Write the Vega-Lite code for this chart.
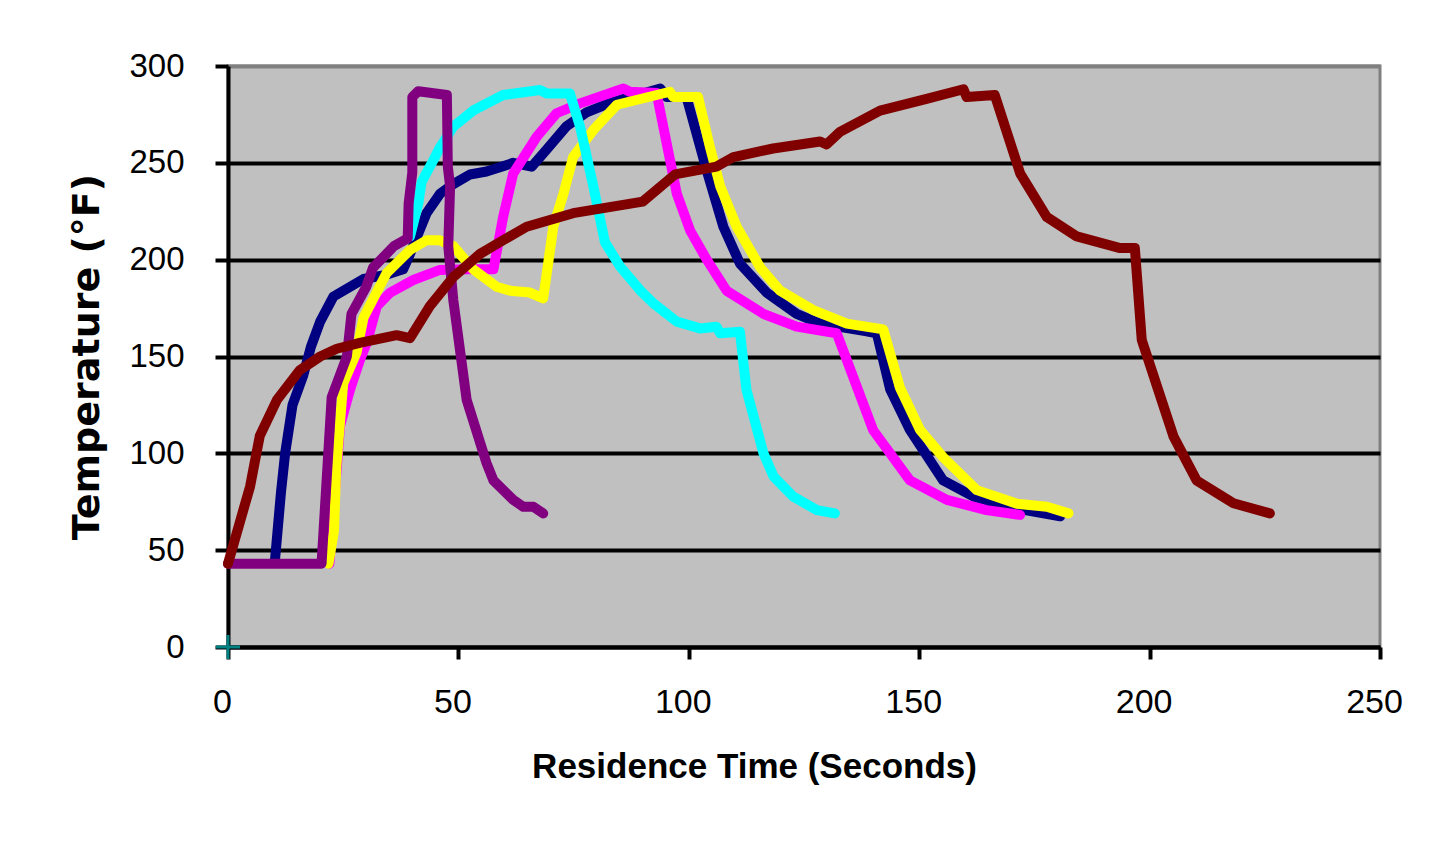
{
  "$schema": "https://vega.github.io/schema/vega-lite/v6.json",
  "width": 1152,
  "height": 581,
  "autosize": {"type": "none"},
  "padding": {"left": 228, "top": 66, "right": 57, "bottom": 199},
  "background": "white",
  "view": {"fill": "#C0C0C0", "stroke": "#808080", "strokeWidth": 3},
  "datasets": {
    "navy": [
      {"t":10.2,"temp":45},{"t":11.5,"temp":80},{"t":12.4,"temp":100},{"t":14,"temp":125},{"t":16.3,"temp":140},{"t":18,"temp":155},{"t":20,"temp":168},{"t":22.9,"temp":181},{"t":29.4,"temp":190},{"t":34,"temp":192},{"t":38,"temp":195},{"t":39.5,"temp":203},{"t":43.1,"temp":224},{"t":46,"temp":234},{"t":48.9,"temp":239},{"t":52.5,"temp":244},{"t":56.1,"temp":245.5},{"t":61.9,"temp":250},{"t":65.9,"temp":248},{"t":69.2,"temp":257},{"t":73.5,"temp":269},{"t":77.8,"temp":276},{"t":82.9,"temp":281},{"t":93.8,"temp":288.4},{"t":95.2,"temp":284},{"t":99.5,"temp":284},{"t":103.9,"temp":246},{"t":107.5,"temp":217},{"t":111.1,"temp":198},{"t":116.9,"temp":183},{"t":123.4,"temp":172},{"t":128.5,"temp":167},{"t":138.6,"temp":163},{"t":140.8,"temp":162},{"t":143.7,"temp":133},{"t":148,"temp":112},{"t":155.2,"temp":86},{"t":161.8,"temp":77.6},{"t":170,"temp":72},{"t":180.6,"temp":67.5}
    ],
    "magenta": [
      {"t":22,"temp":43},{"t":24.3,"temp":114},{"t":26.5,"temp":133},{"t":28.6,"temp":148},{"t":30.1,"temp":157},{"t":32.3,"temp":176},{"t":35.2,"temp":183},{"t":40.2,"temp":189.5},{"t":46,"temp":194.7},{"t":52,"temp":195},{"t":57.6,"temp":195},{"t":59.7,"temp":222},{"t":61.9,"temp":244.5},{"t":67,"temp":263.5},{"t":71.3,"temp":275.6},{"t":76.4,"temp":280.7},{"t":85.8,"temp":288.4},{"t":87.2,"temp":286.7},{"t":93,"temp":286},{"t":97.4,"temp":234},{"t":100.3,"temp":215},{"t":103.9,"temp":200},{"t":108.2,"temp":184},{"t":116.2,"temp":172},{"t":123.4,"temp":165.4},{"t":132.1,"temp":162},{"t":140,"temp":112},{"t":143.7,"temp":100},{"t":148,"temp":86},{"t":156,"temp":76},{"t":164.6,"temp":70.7},{"t":171.9,"temp":68.2}
    ],
    "yellow": [
      {"t":21.8,"temp":43},{"t":23,"temp":60},{"t":23.5,"temp":93},{"t":25,"temp":136},{"t":27.9,"temp":152},{"t":29.4,"temp":170},{"t":34.4,"temp":193},{"t":39.5,"temp":205},{"t":43.1,"temp":210},{"t":46,"temp":210},{"t":48.9,"temp":207},{"t":53.2,"temp":195},{"t":58.3,"temp":186},{"t":61.2,"temp":184},{"t":65.5,"temp":183},{"t":68.4,"temp":180},{"t":70.6,"temp":217},{"t":72.8,"temp":234},{"t":74.9,"temp":253},{"t":79.3,"temp":267},{"t":84.4,"temp":280},{"t":95.9,"temp":286.7},{"t":96.6,"temp":284},{"t":102,"temp":284},{"t":104.6,"temp":258},{"t":106.8,"temp":238},{"t":110.4,"temp":217},{"t":115.5,"temp":196},{"t":119.8,"temp":184},{"t":127,"temp":174},{"t":134.3,"temp":167},{"t":142.2,"temp":164},{"t":145.8,"temp":134},{"t":150.2,"temp":112},{"t":155.2,"temp":98},{"t":162.5,"temp":81},{"t":171.2,"temp":74},{"t":177.7,"temp":72.4},{"t":182.4,"temp":69}
    ],
    "cyan": [
      {"t":39.5,"temp":212},{"t":41.3,"temp":229},{"t":42,"temp":240},{"t":44.6,"temp":251.5},{"t":46,"temp":258},{"t":48.9,"temp":268.7},{"t":53.2,"temp":277},{"t":59.7,"temp":285},{"t":67.7,"temp":287.6},{"t":69.2,"temp":285.8},{"t":74.2,"temp":285.8},{"t":76.4,"temp":268.7},{"t":79.3,"temp":237.7},{"t":81.8,"temp":209},{"t":85.1,"temp":196.4},{"t":89.4,"temp":184.3},{"t":92.3,"temp":177.5},{"t":97.4,"temp":168},{"t":102.4,"temp":164.5},{"t":106,"temp":165.4},{"t":106.8,"temp":162},{"t":111.1,"temp":162.8},{"t":112.5,"temp":133},{"t":116.2,"temp":100},{"t":118.4,"temp":88},{"t":122.7,"temp":77.6},{"t":127.8,"temp":70.7},{"t":131.7,"temp":69}
    ],
    "purple": [
      {"t":0,"temp":43},{"t":20.3,"temp":43},{"t":21.5,"temp":90},{"t":22.5,"temp":129},{"t":25.8,"temp":150},{"t":26.8,"temp":172},{"t":30,"temp":186},{"t":31.5,"temp":196},{"t":34,"temp":202},{"t":36,"temp":207},{"t":39,"temp":211},{"t":39.2,"temp":229},{"t":40,"temp":245},{"t":40,"temp":284},{"t":41.3,"temp":287},{"t":47.5,"temp":285},{"t":47.7,"temp":248},{"t":48.2,"temp":238},{"t":47.8,"temp":207},{"t":48.9,"temp":179},{"t":51.8,"temp":127.5},{"t":56.1,"temp":95},{"t":57.6,"temp":86},{"t":61.9,"temp":76},{"t":64.1,"temp":72.4},{"t":66.3,"temp":72.4},{"t":68.4,"temp":69}
    ],
    "maroon": [
      {"t":0,"temp":43},{"t":4.8,"temp":83},{"t":6.9,"temp":109},{"t":10.6,"temp":127.5},{"t":15.6,"temp":143},{"t":20,"temp":150},{"t":23.6,"temp":154},{"t":28.6,"temp":157},{"t":36.6,"temp":161},{"t":39.5,"temp":159.5},{"t":43.8,"temp":176},{"t":48.9,"temp":191},{"t":54.7,"temp":203},{"t":59.7,"temp":210},{"t":64.8,"temp":217},{"t":74.9,"temp":224},{"t":90,"temp":230},{"t":97,"temp":244},{"t":106,"temp":248},{"t":109.7,"temp":253},{"t":118.3,"temp":257.4},{"t":128.5,"temp":261},{"t":129.9,"temp":259.5},{"t":132.8,"temp":266},{"t":141.5,"temp":277},{"t":151.6,"temp":283},{"t":159.6,"temp":288},{"t":160.3,"temp":284},{"t":166.4,"temp":285},{"t":171.9,"temp":244.6},{"t":177.7,"temp":222},{"t":184.2,"temp":212},{"t":193.6,"temp":206},{"t":196.8,"temp":206},{"t":198.3,"temp":158.5},{"t":205.2,"temp":108.6},{"t":210.2,"temp":86},{"t":218.2,"temp":74.2},{"t":226.1,"temp":69}
    ],
    "teal": [
      {"t":0,"temp":0}
    ]
  },
  "encoding": {
    "x": {
      "field": "t",
      "type": "quantitative",
      "scale": {"domain": [0, 250], "nice": false, "zero": false},
      "axis": {
        "values": [0, 50, 100, 150, 200, 250],
        "grid": false,
        "title": "Residence Time (Seconds)",
        "titleFont": "Liberation Sans",
        "titleFontSize": 35,
        "titleFontWeight": "bold",
        "titleColor": "black",
        "titlePadding": 30,
        "titleX": 526,
        "titleAnchor": "middle",
        "labelFont": "Liberation Sans",
        "labelFontSize": 34,
        "labelColor": "black",
        "labelPadding": 26,
        "labelOffset": -6,
        "labelFlush": false,
        "labelOverlap": false,
        "tickColor": "black",
        "tickSize": 12,
        "tickWidth": 4,
        "domainColor": "black",
        "domainWidth": 4
      }
    },
    "y": {
      "field": "temp",
      "type": "quantitative",
      "scale": {"domain": [0, 300], "nice": false},
      "axis": {
        "values": [0, 50, 100, 150, 200, 250, 300],
        "grid": true,
        "gridColor": {"condition": {"test": "datum.value === 300", "value": "#808080"}, "value": "black"},
        "gridWidth": 4,
        "gridOpacity": 1,
        "title": "Temperature (°F)",
        "titleFont": "DejaVu Sans",
        "titleFontSize": 38,
        "titleFontWeight": "bold",
        "titleColor": "black",
        "titlePadding": 22,
        "labelFont": "Liberation Sans",
        "labelFontSize": 33,
        "labelColor": "black",
        "labelPadding": 31,
        "labelOverlap": false,
        "labelFlush": false,
        "tickColor": "black",
        "tickSize": 13,
        "tickWidth": 4,
        "domainColor": "black",
        "domainWidth": 4
      }
    }
  },
  "layer": [
    {"data": {"name": "navy"}, "mark": {"type": "line", "color": "#000080", "strokeWidth": 10, "strokeCap": "round", "strokeJoin": "round"}, "encoding": {"order": {"value": null}}},
    {"data": {"name": "magenta"}, "mark": {"type": "line", "color": "#FF00FF", "strokeWidth": 10, "strokeCap": "round", "strokeJoin": "round"}, "encoding": {"order": {"value": null}}},
    {"data": {"name": "yellow"}, "mark": {"type": "line", "color": "#FFFF00", "strokeWidth": 10, "strokeCap": "round", "strokeJoin": "round"}, "encoding": {"order": {"value": null}}},
    {"data": {"name": "cyan"}, "mark": {"type": "line", "color": "#00FFFF", "strokeWidth": 10, "strokeCap": "round", "strokeJoin": "round"}, "encoding": {"order": {"value": null}}},
    {"data": {"name": "purple"}, "mark": {"type": "line", "color": "#800080", "strokeWidth": 10, "strokeCap": "round", "strokeJoin": "round"}, "encoding": {"order": {"value": null}}},
    {"data": {"name": "maroon"}, "mark": {"type": "line", "color": "#800000", "strokeWidth": 10, "strokeCap": "round", "strokeJoin": "round"}, "encoding": {"order": {"value": null}}},
    {"data": {"name": "teal"}, "mark": {"type": "point", "shape": "M-1,0H1M0,-1V1", "size": 576, "filled": false, "stroke": "#008080", "strokeWidth": 3, "opacity": 1}}
  ]
}
